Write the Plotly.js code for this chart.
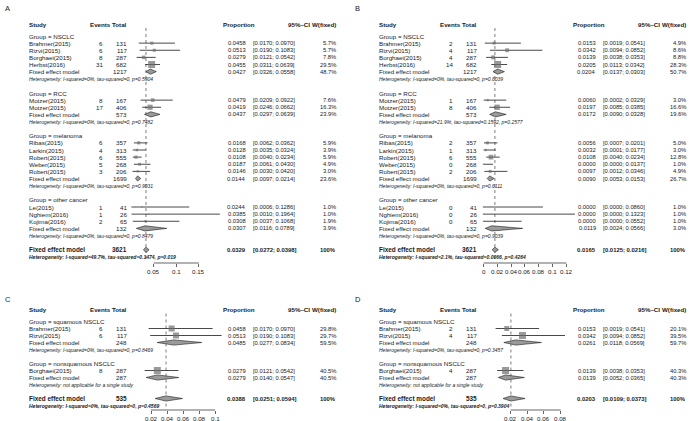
<!DOCTYPE html>
<html><head><meta charset="utf-8">
<script src="https://cdn.plot.ly/plotly-3.0.1.min.js"></script>
<style>body{margin:0;background:#fff}</style>
</head><body><div id="chart" style="width:700px;height:421px"></div>
<script>
// ---------------- DATA: panels A & B ----------------
const groupsAB = ['NSCLC','RCC','melanoma','other cancer'];
const studiesAB = ['Brahmer(2015)','Rizvi(2015)','Borghaei(2015)','Herbst(2016)','Motzer(2015)','Motzer(2015)','Ribas(2015)','Larkin(2015)','Robert(2015)','Weber(2015)','Robert(2015)','Le(2015)','Nghiem(2016)','Kojima(2016)'];
const studyGroupAB = [0,0,0,0,1,1,2,2,2,2,2,3,3,3];
const totalAB = [131,117,287,682,167,406,357,313,555,268,206,41,26,65];
const subTotalAB = [1217,573,1699,132];
const overallTotalAB = 3621;

const eventsA = [6,6,8,31,8,17,6,4,6,5,3,1,1,2];
const propA = [0.0458,0.0513,0.0279,0.0455,0.0479,0.0419,0.0168,0.0128,0.0108,0.0187,0.0146,0.0244,0.0385,0.0308];
const lowA  = [0.0170,0.0190,0.0121,0.0311,0.0209,0.0246,0.0062,0.0035,0.0040,0.0061,0.0030,0.0006,0.0010,0.0037];
const upA   = [0.0970,0.1083,0.0542,0.0639,0.0922,0.0662,0.0362,0.0324,0.0234,0.0430,0.0420,0.1286,0.1964,0.1068];
const weightA = [5.7,5.7,7.8,29.5,7.6,16.3,5.9,3.9,5.9,4.9,3.0,1.0,1.0,1.9];
const subPropA = [0.0427,0.0437,0.0144,0.0307];
const subLowA  = [0.0326,0.0297,0.0097,0.0116];
const subUpA   = [0.0558,0.0639,0.0214,0.0789];
const subWeightA = [48.7,23.9,23.6,3.9];
const hetA = ['I-squared=0%, tau-squared=0, p=0.5904','I-squared=0%, tau-squared=0, p=0.7482','I-squared=0%, tau-squared=0, p=0.9031','I-squared=0%, tau-squared=0, p=0.8479'];
const overallA = [0.0329,0.0272,0.0398];
const overallHetA = 'I-squared=49.7%, tau-squared=0.1474, p=0.019';
const ticksA = [0.05,0.1,0.15];

const eventsB = [2,4,4,14,1,8,2,1,6,0,2,0,0,0];
const propB = [0.0153,0.0342,0.0139,0.0205,0.0060,0.0197,0.0056,0.0032,0.0108,0.0000,0.0097,0.0000,0.0000,0.0000];
const lowB  = [0.0019,0.0094,0.0038,0.0113,0.0002,0.0085,0.0007,0.0001,0.0040,0.0000,0.0012,0.0000,0.0000,0.0000];
const upB   = [0.0541,0.0852,0.0353,0.0342,0.0329,0.0385,0.0201,0.0177,0.0234,0.0137,0.0346,0.0860,0.1323,0.0552];
const weightB = [4.9,8.6,8.8,28.3,3.0,16.6,5.0,3.0,12.8,1.0,4.9,1.0,1.0,1.0];
const subPropB = [0.0204,0.0172,0.0090,0.0119];
const subLowB  = [0.0137,0.0090,0.0053,0.0024];
const subUpB   = [0.0303,0.0328,0.0153,0.0566];
const subWeightB = [50.7,19.6,26.7,3.0];
const hetB = ['I-squared=0%, tau-squared=0, p=0.6039','I-squared=21.9%, tau-squared=0.1592, p=0.2577','I-squared=0%, tau-squared=0, p=0.6111','I-squared=0%, tau-squared=0, p=0.9039'];
const overallB = [0.0165,0.0125,0.0216];
const overallHetB = 'I-squared=2.1%, tau-squared=0.0066, p=0.4264';
const ticksB = [0,0.02,0.04,0.06,0.08,0.1,0.12];

// ---------------- DATA: panels C & D ----------------
const groupsCD = ['squamous NSCLC','nonsquamous NSCLC'];
const studiesCD = ['Brahmer(2015)','Rizvi(2015)','Borghaei(2015)'];
const studyGroupCD = [0,0,1];
const totalCD = [131,117,287];
const subTotalCD = [248,287];
const overallTotalCD = 535;

const eventsC = [6,6,8];
const propC = [0.0458,0.0513,0.0279];
const lowC  = [0.0170,0.0190,0.0121];
const upC   = [0.0970,0.1083,0.0542];
const weightC = [29.8,29.7,40.5];
const subPropC = [0.0485,0.0279];
const subLowC  = [0.0277,0.0140];
const subUpC   = [0.0834,0.0547];
const subWeightC = [59.5,40.5];
const hetC = ['I-squared=0%, tau-squared=0, p=0.8469', null];
const overallC = [0.0388,0.0251,0.0594];
const overallHetC = 'I-squared=0%, tau-squared=0, p=0.4569';
const ticksC = [0.02,0.04,0.06,0.08,0.1];

const eventsD = [2,4,4];
const propD = [0.0153,0.0342,0.0139];
const lowD  = [0.0019,0.0094,0.0038];
const upD   = [0.0541,0.0852,0.0353];
const weightD = [20.1,39.5,40.3];
const subPropD = [0.0261,0.0139];
const subLowD  = [0.0118,0.0052];
const subUpD   = [0.0569,0.0365];
const subWeightD = [59.7,40.3];
const hetD = ['I-squared=0%, tau-squared=0, p=0.3457', null];
const overallD = [0.0203,0.0109,0.0373];
const overallHetD = 'I-squared=0%, tau-squared=0, p=0.3904';
const ticksD = [0.02,0.04,0.06,0.08];

// ---------------- LAYOUT HELPERS ----------------
const W = 700, H = 421;
const FONT = 'Liberation Sans, Arial, sans-serif';
const TXT = '#1a1a1a';
const traces = [], annotations = [], shapes = [];
const layout = {width:W, height:H, margin:{l:0,r:0,t:0,b:0}, paper_bgcolor:'#fff', plot_bgcolor:'rgba(0,0,0,0)', showlegend:false};

function T(x, yref, y, text, anchor, size, extra) {
  annotations.push(Object.assign({xref:'paper', x:x/W, yref:yref, y:y, text:text, xanchor:anchor, yanchor:'middle',
    showarrow:false, font:{family:FONT, size:size, color:TXT}}, extra||{}));
}
const f4 = v => v.toFixed(4);
const ci = (l,u) => '[' + f4(l) + '; ' + f4(u) + ']';

const rowsAB = {r0:36, step:7.125, top:0, bottom:263, yaxis:'yaxis', yref:'y'};
const rowsCD = {r0:321.5, step:7.0, top:290, bottom:410, yaxis:'yaxis2', yref:'y2'};
[rowsAB, rowsCD].forEach(g => {
  layout[g.yaxis] = {domain:[1-g.bottom/H, 1-g.top/H], range:[(g.bottom-g.r0)/g.step, (g.top-g.r0)/g.step],
    visible:false, fixedrange:true};
});
const rowOf = (g, px) => (px - g.r0)/g.step;

function panel(o) {
  const g = o.rows, yr = g.yref, dx = o.dx;
  const xa = o.xkey.replace('axis','');
  const ya = yr;
  const d0 = o.dom[0], d1 = o.dom[1];
  layout[o.xkey] = {domain:[d0/W, d1/W], range:[(d0-o.p0)/o.k, (d1-o.p0)/o.k], anchor:ya,
    tickvals:o.ticks, showticklabels:false, ticks:'outside', ticklen:3, tickwidth:0.7, tickcolor:'#222',
    showline:false, showgrid:false, zeroline:false, fixedrange:true};
  const yAxisPaper = 1 - g.bottom/H;
  shapes.push({type:'line', xref:xa, yref:'paper', x0:o.ticks[0], x1:o.ticks[o.ticks.length-1],
    y0:yAxisPaper, y1:yAxisPaper, line:{color:'#222', width:0.7}});
  // tick labels (kept horizontal, centred under each tick)
  o.ticks.forEach(v => {
    annotations.push({xref:xa, x:v, yref:'paper', y:1-(g.bottom+8)/H, text:String(v), xanchor:'center', yanchor:'middle',
      showarrow:false, font:{family:FONT, size:6.2, color:TXT}});
  });

  const hy = rowOf(g, g.r0 - 12);
  T(o.letterX, 'paper', 1-o.letterY/H, o.letter, 'left', 7.5);
  T(27+dx, yr, hy, '<b>Study</b>', 'left', 6.2);
  T(113+dx, yr, hy, '<b>Events</b>', 'right', 6.2);
  T(129+dx, yr, hy, '<b>Total</b>', 'right', 6.2);
  T(257+dx, yr, hy, '<b>Proportion</b>', 'right', 6.2);
  T(312+dx, yr, hy, '<b>95%\u2013CI</b>', 'right', 6.2);
  T(338+dx, yr, hy, '<b>W(fixed)</b>', 'right', 6.2);

  const lx = [], ly = [], sx = [], sy = [], ss = [], dxs = [], dys = [];
  const maxW = Math.max(...o.w);
  const hh = 2.6 / g.step;
  function diamond(r, est, lo, up) {
    dxs.push(lo, est, up, est, lo, null); dys.push(r, r-hh, r, r+hh, r, null);
  }
  let r = 0;
  o.groups.forEach((gname, gi) => {
    T(27+dx, yr, r, 'Group = ' + gname, 'left', 6.2);
    r++;
    o.studies.forEach((s, i) => {
      if (o.grp[i] !== gi) return;
      T(27+dx, yr, r, s, 'left', 6.2);
      T(105+dx, yr, r, String(o.events[i]), 'right', 6.2);
      T(129+dx, yr, r, String(o.total[i]), 'right', 6.2);
      T(248+dx, yr, r, f4(o.prop[i]), 'right', 5.8);
      T(251+dx, yr, r, ci(o.low[i], o.up[i]), 'left', 5.8);
      T(338+dx, yr, r, o.w[i].toFixed(1) + '%', 'right', 5.8);
      lx.push(o.low[i], o.up[i], null); ly.push(r, r, null);
      sx.push(o.prop[i]); sy.push(r); ss.push(Math.max(1.2, 7*Math.sqrt(o.w[i]/maxW)));
      r++;
    });
    T(27+dx, yr, r, 'Fixed effect model', 'left', 6.2);
    T(129+dx, yr, r, String(o.subTotal[gi]), 'right', 6.2);
    T(248+dx, yr, r, f4(o.subProp[gi]), 'right', 5.8);
    T(251+dx, yr, r, ci(o.subLow[gi], o.subUp[gi]), 'left', 5.8);
    T(338+dx, yr, r, o.subW[gi].toFixed(1) + '%', 'right', 5.8);
    diamond(r, o.subProp[gi], o.subLow[gi], o.subUp[gi]);
    r++;
    const het = o.het[gi] ? 'Heterogeneity: ' + o.het[gi] : 'Heterogeneity: not applicable for a single study';
    T(27+dx, yr, r, '<i>' + het + '</i>', 'left', 5.0);
    r += 2;
  });
  T(27+dx, yr, r, '<b>Fixed effect model</b>', 'left', 6.4);
  T(129+dx, yr, r, '<b>' + o.ovTotal + '</b>', 'right', 6.4);
  T(248+dx, yr, r, '<b>' + f4(o.ov[0]) + '</b>', 'right', 5.9);
  T(251+dx, yr, r, '<b>' + ci(o.ov[1], o.ov[2]) + '</b>', 'left', 5.9);
  T(338+dx, yr, r, '<b>100%</b>', 'right', 5.9);
  diamond(r, o.ov[0], o.ov[1], o.ov[2]);
  T(27+dx, yr, r+1, '<b><i>Heterogeneity: ' + o.ovHet + '</i></b>', 'left', 5.0);

  traces.push({type:'scatter', mode:'lines', xaxis:xa, yaxis:ya, x:[o.ov[0], o.ov[0]],
    y:[rowOf(g, g.r0-8), rowOf(g, g.bottom-1)], line:{color:'#444', width:0.7, dash:'dot'}, hoverinfo:'skip'});
  traces.push({type:'scatter', mode:'lines', xaxis:xa, yaxis:ya, x:lx, y:ly,
    line:{color:'#1a1a1a', width:0.8}, hoverinfo:'skip', connectgaps:false});
  traces.push({type:'scatter', mode:'markers', xaxis:xa, yaxis:ya, x:sx, y:sy,
    marker:{symbol:'square', size:ss, color:'#6e6e6e', line:{width:0}}, hoverinfo:'skip', cliponaxis:false});
  traces.push({type:'scatter', mode:'lines', xaxis:xa, yaxis:ya, x:dxs, y:dys, fill:'toself',
    fillcolor:'#9a9a9a', line:{color:'#1a1a1a', width:0.6}, hoverinfo:'skip', connectgaps:false});
}

panel({rows:rowsAB, dx:0, xkey:'xaxis', letter:'A', letterX:3, letterY:9, p0:131.1, k:452, dom:[125,228], ticks:ticksA,
  groups:groupsAB, studies:studiesAB, grp:studyGroupAB, total:totalAB, events:eventsA, prop:propA, low:lowA, up:upA, w:weightA,
  subTotal:subTotalAB, subProp:subPropA, subLow:subLowA, subUp:subUpA, subW:subWeightA, het:hetA,
  ovTotal:overallTotalAB, ov:overallA, ovHet:overallHetA});
panel({rows:rowsAB, dx:350, xkey:'xaxis2', letter:'B', letterX:353, letterY:9, p0:483.5, k:691, dom:[475,590], ticks:ticksB,
  groups:groupsAB, studies:studiesAB, grp:studyGroupAB, total:totalAB, events:eventsB, prop:propB, low:lowB, up:upB, w:weightB,
  subTotal:subTotalAB, subProp:subPropB, subLow:subLowB, subUp:subUpB, subW:subWeightB, het:hetB,
  ovTotal:overallTotalAB, ov:overallB, ovHet:overallHetB});
panel({rows:rowsCD, dx:0, xkey:'xaxis3', letter:'C', letterX:3, letterY:299, p0:135, k:800, dom:[128,230], ticks:ticksC,
  groups:groupsCD, studies:studiesCD, grp:studyGroupCD, total:totalCD, events:eventsC, prop:propC, low:lowC, up:upC, w:weightC,
  subTotal:subTotalCD, subProp:subPropC, subLow:subLowC, subUp:subUpC, subW:subWeightC, het:hetC,
  ovTotal:overallTotalCD, ov:overallC, ovHet:overallHetC});
panel({rows:rowsCD, dx:350, xkey:'xaxis4', letter:'D', letterX:353, letterY:299, p0:494, k:833, dom:[486,580], ticks:ticksD,
  groups:groupsCD, studies:studiesCD, grp:studyGroupCD, total:totalCD, events:eventsD, prop:propD, low:lowD, up:upD, w:weightD,
  subTotal:subTotalCD, subProp:subPropD, subLow:subLowD, subUp:subUpD, subW:subWeightD, het:hetD,
  ovTotal:overallTotalCD, ov:overallD, ovHet:overallHetD});

layout.annotations = annotations;
layout.shapes = shapes;
Plotly.newPlot('chart', traces, layout, {staticPlot:true, displayModeBar:false});
</script></body></html>
